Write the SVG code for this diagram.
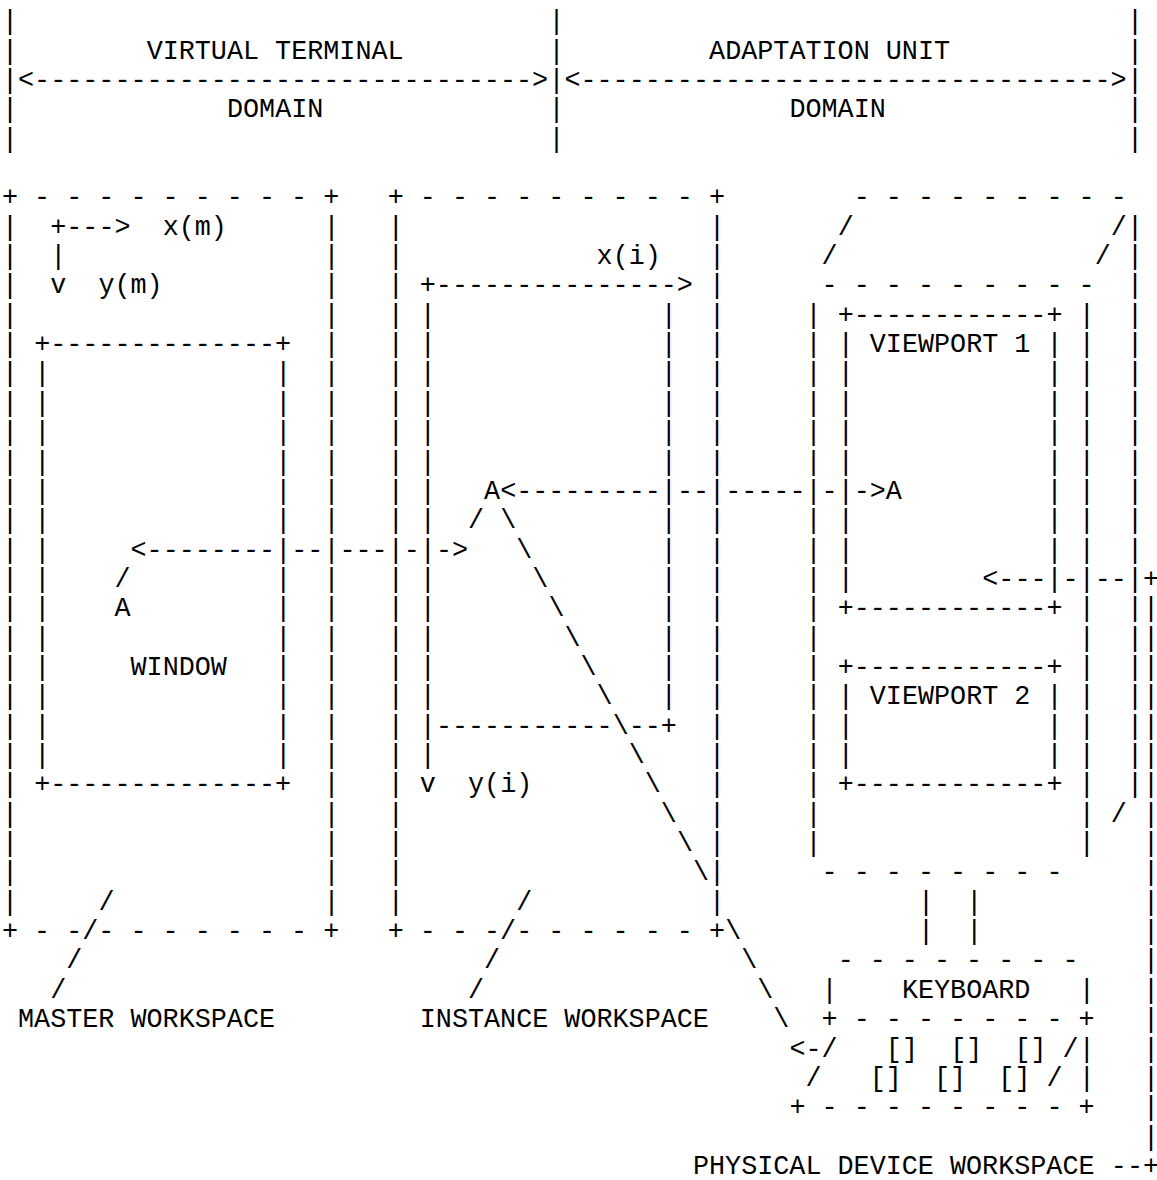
<svg xmlns="http://www.w3.org/2000/svg" width="1157" height="1180" viewBox="0 0 1157 1180" xml:space="preserve">
<style>
text { font-family: "Liberation Mono", "Courier New", monospace; font-size: 26.78px; fill: #000; white-space: pre; }
</style>
<rect x="0" y="0" width="1157" height="1180" fill="#fff"/>
<g id="domains">
<text x="2 2 2 2 2" y="29.25 58.6 87.95 117.3 146.65">|||||</text>
<text x="548.38 548.38 548.38 548.38 548.38" y="29.25 58.6 87.95 117.3 146.65">|||||</text>
<text x="1126.9 1126.9 1126.9 1126.9 1126.9" y="29.25 58.6 87.95 117.3 146.65">|||||</text>
<text x="146.63" y="58.6">VIRTUAL TERMINAL</text>
<text x="709.08" y="58.6">ADAPTATION UNIT</text>
<text x="18.07" y="87.95">&lt;-------------------------------&gt;</text>
<text x="564.45" y="87.95">&lt;---------------------------------&gt;</text>
<text x="226.98" y="117.3">DOMAIN</text>
<text x="789.43" y="117.3">DOMAIN</text>
</g>
<g id="master-workspace">
<text x="2" y="205.35">+ - - - - - - - - - +</text>
<text x="2 2 2 2 2 2 2 2 2 2 2 2 2 2 2 2 2 2 2 2 2 2 2 2" y="234.7 264.05 293.4 322.75 352.1 381.45 410.8 440.15 469.5 498.85 528.2 557.55 586.9 616.25 645.6 674.95 704.3 733.65 763 792.35 821.7 851.05 880.4 909.75">||||||||||||||||||||||||</text>
<text x="323.4 323.4 323.4 323.4 323.4 323.4 323.4 323.4 323.4 323.4 323.4 323.4 323.4 323.4 323.4 323.4 323.4 323.4 323.4 323.4 323.4 323.4 323.4 323.4" y="234.7 264.05 293.4 322.75 352.1 381.45 410.8 440.15 469.5 498.85 528.2 557.55 586.9 616.25 645.6 674.95 704.3 733.65 763 792.35 821.7 851.05 880.4 909.75">||||||||||||||||||||||||</text>
<text x="50.21" y="234.7">+---&gt;</text>
<text x="162.7" y="234.7">x(m)</text>
<text x="50.21" y="264.05">|</text>
<text x="50.21" y="293.4">v</text>
<text x="98.42" y="293.4">y(m)</text>
<text x="98.42" y="909.75">/</text>
<text x="2" y="939.1">+ - -/- - - - - - - +</text>
<text x="66.28" y="968.45">/</text>
<text x="50.21" y="997.8">/</text>
<text x="18.07" y="1027.15">MASTER WORKSPACE</text>
</g>
<g id="window">
<text x="34.14" y="352.1">+--------------+</text>
<text x="34.14 34.14 34.14 34.14 34.14 34.14 34.14 34.14 34.14 34.14 34.14 34.14 34.14 34.14" y="381.45 410.8 440.15 469.5 498.85 528.2 557.55 586.9 616.25 645.6 674.95 704.3 733.65 763">||||||||||||||</text>
<text x="275.19 275.19 275.19 275.19 275.19 275.19 275.19 275.19 275.19 275.19 275.19 275.19 275.19 275.19" y="381.45 410.8 440.15 469.5 498.85 528.2 557.55 586.9 616.25 645.6 674.95 704.3 733.65 763">||||||||||||||</text>
<text x="114.49" y="616.25">A</text>
<text x="130.56" y="674.95">WINDOW</text>
<text x="34.14" y="792.35">+--------------+</text>
</g>
<g id="instance-workspace">
<text x="387.68" y="205.35">+ - - - - - - - - - +</text>
<text x="387.68 387.68 387.68 387.68 387.68 387.68 387.68 387.68 387.68 387.68 387.68 387.68 387.68 387.68 387.68 387.68 387.68 387.68 387.68 387.68 387.68 387.68 387.68 387.68" y="234.7 264.05 293.4 322.75 352.1 381.45 410.8 440.15 469.5 498.85 528.2 557.55 586.9 616.25 645.6 674.95 704.3 733.65 763 792.35 821.7 851.05 880.4 909.75">||||||||||||||||||||||||</text>
<text x="709.08 709.08 709.08 709.08 709.08 709.08 709.08 709.08 709.08 709.08 709.08 709.08 709.08 709.08 709.08 709.08 709.08 709.08 709.08 709.08 709.08 709.08 709.08 709.08" y="234.7 264.05 293.4 322.75 352.1 381.45 410.8 440.15 469.5 498.85 528.2 557.55 586.9 616.25 645.6 674.95 704.3 733.65 763 792.35 821.7 851.05 880.4 909.75">||||||||||||||||||||||||</text>
<text x="596.59" y="264.05">x(i)</text>
<text x="419.82" y="293.4">+---------------&gt;</text>
<text x="419.82 419.82 419.82 419.82 419.82 419.82 419.82 419.82 419.82 419.82 419.82 419.82 419.82 419.82 419.82 419.82" y="322.75 352.1 381.45 410.8 440.15 469.5 498.85 528.2 557.55 586.9 616.25 645.6 674.95 704.3 733.65 763">||||||||||||||||</text>
<text x="660.87 660.87 660.87 660.87 660.87 660.87 660.87 660.87 660.87 660.87 660.87 660.87 660.87 660.87" y="322.75 352.1 381.45 410.8 440.15 469.5 498.85 528.2 557.55 586.9 616.25 645.6 674.95 704.3">||||||||||||||</text>
<text x="484.1" y="498.85">A</text>
<text x="435.89" y="733.65">-----------</text>
<text x="628.73" y="733.65">--+</text>
<text x="419.82" y="792.35">v</text>
<text x="468.03" y="792.35">y(i)</text>
<text x="516.24" y="909.75">/</text>
<text x="387.68" y="939.1">+ - - -/- - - - - - +</text>
<text x="484.1" y="968.45">/</text>
<text x="468.03" y="997.8">/</text>
<text x="419.82" y="1027.15">INSTANCE WORKSPACE</text>
</g>
<g id="physical-device">
<text x="853.71" y="205.35">- - - - - - - - -</text>
<text x="837.64" y="234.7">/</text>
<text x="1110.83" y="234.7">/</text>
<text x="821.57" y="264.05">/</text>
<text x="1094.76" y="264.05">/</text>
<text x="821.57" y="293.4">- - - - - - - - -</text>
<text x="1126.9 1126.9 1126.9 1126.9 1126.9 1126.9 1126.9 1126.9 1126.9 1126.9 1126.9 1126.9 1126.9 1126.9 1126.9 1126.9 1126.9 1126.9 1126.9 1126.9" y="234.7 264.05 293.4 322.75 352.1 381.45 410.8 440.15 469.5 498.85 528.2 557.55 586.9 616.25 645.6 674.95 704.3 733.65 763 792.35">||||||||||||||||||||</text>
<text x="805.5 805.5 805.5 805.5 805.5 805.5 805.5 805.5 805.5 805.5 805.5 805.5 805.5 805.5 805.5 805.5 805.5 805.5 805.5" y="322.75 352.1 381.45 410.8 440.15 469.5 498.85 528.2 557.55 586.9 616.25 645.6 674.95 704.3 733.65 763 792.35 821.7 851.05">|||||||||||||||||||</text>
<text x="1078.69 1078.69 1078.69 1078.69 1078.69 1078.69 1078.69 1078.69 1078.69 1078.69 1078.69 1078.69 1078.69 1078.69 1078.69 1078.69 1078.69 1078.69 1078.69" y="322.75 352.1 381.45 410.8 440.15 469.5 498.85 528.2 557.55 586.9 616.25 645.6 674.95 704.3 733.65 763 792.35 821.7 851.05">|||||||||||||||||||</text>
<text x="1110.83" y="821.7">/</text>
<text x="821.57" y="880.4">- - - - - - - -</text>
<text x="917.99 917.99" y="909.75 939.1">||</text>
<text x="966.2 966.2" y="909.75 939.1">||</text>
<text x="693.01" y="1173.9">PHYSICAL DEVICE WORKSPACE</text>
</g>
<g id="viewport-1">
<text x="837.64" y="322.75">+------------+</text>
<text x="837.64 837.64 837.64 837.64 837.64 837.64 837.64 837.64 837.64" y="352.1 381.45 410.8 440.15 469.5 498.85 528.2 557.55 586.9">|||||||||</text>
<text x="1046.55 1046.55 1046.55 1046.55 1046.55 1046.55 1046.55 1046.55 1046.55" y="352.1 381.45 410.8 440.15 469.5 498.85 528.2 557.55 586.9">|||||||||</text>
<text x="869.78" y="352.1">VIEWPORT 1</text>
<text x="885.85" y="498.85">A</text>
<text x="837.64" y="616.25">+------------+</text>
</g>
<g id="viewport-2">
<text x="837.64" y="674.95">+------------+</text>
<text x="837.64 837.64 837.64" y="704.3 733.65 763">|||</text>
<text x="1046.55 1046.55 1046.55" y="704.3 733.65 763">|||</text>
<text x="869.78" y="704.3">VIEWPORT 2</text>
<text x="837.64" y="792.35">+------------+</text>
</g>
<g id="keyboard">
<text x="837.64" y="968.45">- - - - - - - -</text>
<text x="821.57" y="997.8">|</text>
<text x="901.92" y="997.8">KEYBOARD</text>
<text x="1078.69" y="997.8">|</text>
<text x="821.57" y="1027.15">+ - - - - - - - +</text>
<text x="821.57" y="1056.5">/</text>
<text x="885.85" y="1056.5">[]</text>
<text x="950.13" y="1056.5">[]</text>
<text x="1014.41" y="1056.5">[]</text>
<text x="1062.62" y="1056.5">/</text>
<text x="805.5" y="1085.85">/</text>
<text x="869.78" y="1085.85">[]</text>
<text x="934.06" y="1085.85">[]</text>
<text x="998.34" y="1085.85">[]</text>
<text x="1046.55" y="1085.85">/</text>
<text x="1078.69 1078.69" y="1056.5 1085.85">||</text>
<text x="789.43" y="1115.2">+ - - - - - - - - +</text>
</g>
<g id="connectors">
<g id="arrow-window-instance">
<text x="114.49" y="586.9">/</text>
<text x="130.56" y="557.55">&lt;--------</text>
<text x="291.26" y="557.55">--</text>
<text x="339.47" y="557.55">---</text>
<text x="403.75" y="557.55">-</text>
<text x="435.89" y="557.55">-&gt;</text>
<text x="468.03" y="528.2">/</text>
</g>
<g id="arrow-instance-viewport">
<text x="500.17" y="498.85">&lt;---------</text>
<text x="676.94" y="498.85">--</text>
<text x="725.15" y="498.85">-----</text>
<text x="821.57" y="498.85">-</text>
<text x="853.71" y="498.85">-&gt;</text>
</g>
<g id="line-a-keyboard">
<text x="500.17" y="528.2">\</text>
<text x="516.24" y="557.55">\</text>
<text x="532.31" y="586.9">\</text>
<text x="548.38" y="616.25">\</text>
<text x="564.45" y="645.6">\</text>
<text x="580.52" y="674.95">\</text>
<text x="596.59" y="704.3">\</text>
<text x="612.66" y="733.65">\</text>
<text x="628.73" y="763">\</text>
<text x="644.8" y="792.35">\</text>
<text x="660.87" y="821.7">\</text>
<text x="676.94" y="851.05">\</text>
<text x="693.01" y="880.4">\</text>
<text x="725.15" y="939.1">\</text>
<text x="741.22" y="968.45">\</text>
<text x="757.29" y="997.8">\</text>
<text x="773.36" y="1027.15">\</text>
<text x="789.43" y="1056.5">&lt;-</text>
</g>
<g id="leader-physical-device">
<text x="982.27" y="586.9">&lt;---</text>
<text x="1062.62" y="586.9">-</text>
<text x="1094.76" y="586.9">--</text>
<text x="1142.97" y="586.9">+</text>
<text x="1142.97 1142.97 1142.97 1142.97 1142.97 1142.97 1142.97 1142.97 1142.97 1142.97 1142.97 1142.97 1142.97 1142.97 1142.97 1142.97 1142.97 1142.97 1142.97" y="616.25 645.6 674.95 704.3 733.65 763 792.35 821.7 851.05 880.4 909.75 939.1 968.45 997.8 1027.15 1056.5 1085.85 1115.2 1144.55">|||||||||||||||||||</text>
<text x="1110.83" y="1173.9">--+</text>
</g>
</g>
</svg>
